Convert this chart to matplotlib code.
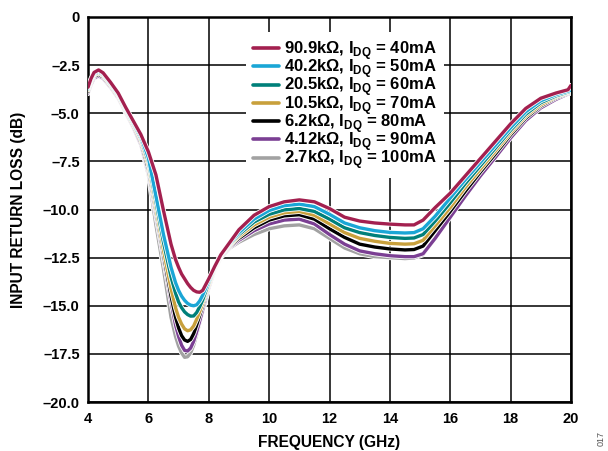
import matplotlib
matplotlib.use("Agg")
import matplotlib.pyplot as plt
import matplotlib.patheffects as pe

freq = [4.0, 4.1, 4.2, 4.35, 4.5, 4.75, 5.0, 5.25, 5.5, 5.75, 6.0, 6.25, 6.5, 6.75, 6.9,
        7.0, 7.1, 7.2, 7.3, 7.4, 7.5, 7.6, 7.7, 7.8, 8.0, 8.2, 8.4, 8.7, 9.0, 9.5, 10.0,
        10.5, 11.0, 11.5, 12.0, 12.5, 13.0, 13.5, 14.0, 14.5, 14.8, 15.1, 15.5, 16.0,
        16.5, 17.0, 17.5, 18.0, 18.5, 19.0, 19.5, 19.9, 20.0]

rl_40mA = [-3.65, -3.2, -2.88, -2.75, -2.9, -3.4, -3.95, -4.7, -5.4, -6.1, -7.0, -8.2, -10.05, -11.8, -12.6,
           -13.0, -13.35, -13.6, -13.85, -14.05, -14.2, -14.28, -14.3, -14.2, -13.6, -12.95, -12.35, -11.7, -11.05, -10.3, -9.85,
           -9.6, -9.5, -9.6, -9.95, -10.4, -10.6, -10.7, -10.76, -10.8, -10.8, -10.55, -9.9, -9.15,
           -8.25, -7.35, -6.45, -5.55, -4.75, -4.22, -3.95, -3.78, -3.55]
rl_50mA = [-3.7, -3.25, -2.93, -2.8, -2.95, -3.45, -4.0, -4.75, -5.47, -6.2, -7.3, -9.3, -11.3, -13.0, -13.8,
           -14.2, -14.5, -14.72, -14.88, -14.97, -15.0, -14.95, -14.75, -14.45, -13.7, -12.95, -12.35, -11.75, -11.2, -10.5, -10.05,
           -9.8, -9.72, -9.85, -10.25, -10.7, -10.95, -11.1, -11.19, -11.22, -11.2, -11.0, -10.35, -9.4,
           -8.45, -7.55, -6.65, -5.75, -4.92, -4.35, -4.03, -3.85, -3.8]
rl_60mA = [-3.75, -3.3, -2.98, -2.85, -3.0, -3.5, -4.05, -4.8, -5.54, -6.3, -7.5, -9.6, -11.7, -13.5, -14.35,
           -14.8, -15.1, -15.32, -15.46, -15.54, -15.53, -15.35, -15.05, -14.7, -13.8, -13.0, -12.35, -11.8, -11.3, -10.65, -10.25,
           -10.02, -9.95, -10.1, -10.5, -10.95, -11.2, -11.35, -11.45, -11.5, -11.48, -11.3, -10.6, -9.65,
           -8.65, -7.72, -6.8, -5.88, -5.05, -4.45, -4.1, -3.9, -3.85]
rl_70mA = [-3.8, -3.35, -3.03, -2.9, -3.05, -3.55, -4.1, -4.85, -5.6, -6.4, -7.7, -9.9, -12.1, -14.1, -15.1,
           -15.6, -15.95, -16.2, -16.3, -16.25, -16.05, -15.7, -15.3, -14.85, -13.9, -13.05, -12.4, -11.85, -11.4, -10.8, -10.4,
           -10.17, -10.1, -10.3, -10.75, -11.2, -11.5, -11.65, -11.76, -11.8, -11.78, -11.6, -10.85, -9.9,
           -8.85, -7.9, -6.95, -6.0, -5.15, -4.55, -4.15, -3.93, -3.88]
rl_80mA = [-3.88, -3.42, -3.1, -2.97, -3.12, -3.6, -4.15, -4.9, -5.66, -6.5, -7.9, -10.1, -12.35, -14.5, -15.6,
           -16.15, -16.55, -16.78, -16.85, -16.75, -16.45, -16.0, -15.5, -15.0, -13.95, -13.05, -12.4, -11.9, -11.5, -10.95, -10.55,
           -10.33, -10.27, -10.5, -11.0, -11.45, -11.8, -11.95, -12.05, -12.1, -12.08, -11.9, -11.1, -10.1,
           -9.05, -8.05, -7.1, -6.12, -5.25, -4.62, -4.2, -3.96, -3.9]
rl_90mA = [-3.95, -3.5, -3.17, -3.05, -3.18, -3.65, -4.2, -4.95, -5.72, -6.6, -8.05, -10.3, -12.55, -14.8, -16.0,
           -16.6, -17.05, -17.32, -17.35, -17.2, -16.85, -16.35, -15.8, -15.2, -14.05, -13.1, -12.45, -11.95, -11.6, -11.1, -10.75,
           -10.55, -10.5, -10.75, -11.3, -11.8, -12.15, -12.3, -12.4, -12.45, -12.45, -12.3, -11.5, -10.4,
           -9.3, -8.25, -7.28, -6.28, -5.38, -4.72, -4.28, -4.0, -3.95]
rl_100mA = [-3.98, -3.53, -3.2, -3.08, -3.2, -3.67, -4.22, -4.98, -5.75, -6.65, -8.2, -10.8, -13.1, -15.6, -16.6,
            -17.1, -17.45, -17.68, -17.65, -17.45, -17.05, -16.5, -15.9, -15.3, -14.1, -13.15, -12.5, -12.0, -11.7, -11.3, -11.0,
            -10.85, -10.8, -11.0, -11.5, -12.0, -12.3, -12.45, -12.5, -12.55, -12.52, -12.35, -11.45, -10.3,
            -9.2, -8.15, -7.2, -6.2, -5.32, -4.67, -4.24, -3.98, -3.92]

labels = ["90.9k\u03a9, I$_{\\mathbf{DQ}}$ = 40mA",
          "40.2k\u03a9, I$_{\\mathbf{DQ}}$ = 50mA",
          "20.5k\u03a9, I$_{\\mathbf{DQ}}$ = 60mA",
          "10.5k\u03a9, I$_{\\mathbf{DQ}}$ = 70mA",
          "6.2k\u03a9, I$_{\\mathbf{DQ}}$ = 80mA",
          "4.12k\u03a9, I$_{\\mathbf{DQ}}$ = 90mA",
          "2.7k\u03a9, I$_{\\mathbf{DQ}}$ = 100mA"]
series = [rl_40mA, rl_50mA, rl_60mA, rl_70mA, rl_80mA, rl_90mA, rl_100mA]
colors = ["#a3204f", "#1aa6d6", "#00807a", "#c8a03c", "#000000", "#7b3f93", "#a2a2a2"]
zorders = [9, 8, 7, 6, 5, 4, 3]

xticks = [4, 6, 8, 10, 12, 14, 16, 18, 20]
yticks = [0, -2.5, -5.0, -7.5, -10.0, -12.5, -15.0, -17.5, -20.0]
ytick_labels = ["0", "\u20132.5", "\u20135.0", "\u20137.5", "\u201310.0", "\u201312.5",
                "\u201315.0", "\u201317.5", "\u201320.0"]

plt.rcParams['font.family'] = ['Liberation Sans', 'DejaVu Sans']
plt.rcParams['font.weight'] = 'bold'
plt.rcParams['mathtext.fontset'] = 'custom'
plt.rcParams['mathtext.rm'] = 'Liberation Sans:bold'
plt.rcParams['mathtext.bf'] = 'Liberation Sans:bold'

fig = plt.figure(figsize=(6.08, 4.51), dpi=100)
ax = fig.add_axes([88/608, 1-402/451, (571-88)/608, (402-17)/451])

for y, c, lab, z in zip(series, colors, labels, zorders):
    ax.plot(freq, y, color=c, lw=2.4, label=lab, zorder=z, solid_capstyle='round',
            path_effects=[pe.Stroke(linewidth=3.6, foreground='white'), pe.Normal()])

ax.set_xlim(4, 20)
ax.set_ylim(-20, 0)
ax.set_xticks(xticks)
ax.set_yticks(yticks)
ax.set_yticklabels(ytick_labels)
ax.grid(True, color='black', lw=1.1)
ax.tick_params(length=0, labelsize=10.5)
ax.tick_params(axis='x', pad=7)
ax.tick_params(axis='y', pad=6)
for lab in ax.get_xticklabels() + ax.get_yticklabels():
    lab.set_fontweight('bold')
for s in ax.spines.values():
    s.set_linewidth(1.8)

ax.set_xlabel("FREQUENCY (GHz)", fontsize=11.2, fontweight='bold', labelpad=7)
ax.set_ylabel("INPUT RETURN LOSS (dB)", fontsize=11.2, fontweight='bold', labelpad=12)

leg = ax.legend(loc='upper left', bbox_to_anchor=(0.327, 0.96), frameon=True,
                fancybox=False, edgecolor='none', facecolor='white', framealpha=1,
                fontsize=12, handlelength=1.6, handletextpad=0.3, labelspacing=-0.28,
                borderpad=0.4, borderaxespad=0)
leg.set_zorder(20)
for t in leg.get_texts():
    t.set_fontweight('bold')
for h in leg.legend_handles:
    h.set_path_effects([])
    h.set_linewidth(2.6)

fig.text(0.988, 1-438/451, "017", rotation=90, fontsize=6.5, color='#555555',
         fontweight='normal', ha='center', va='center')

fig.savefig("out.png", dpi=100)
